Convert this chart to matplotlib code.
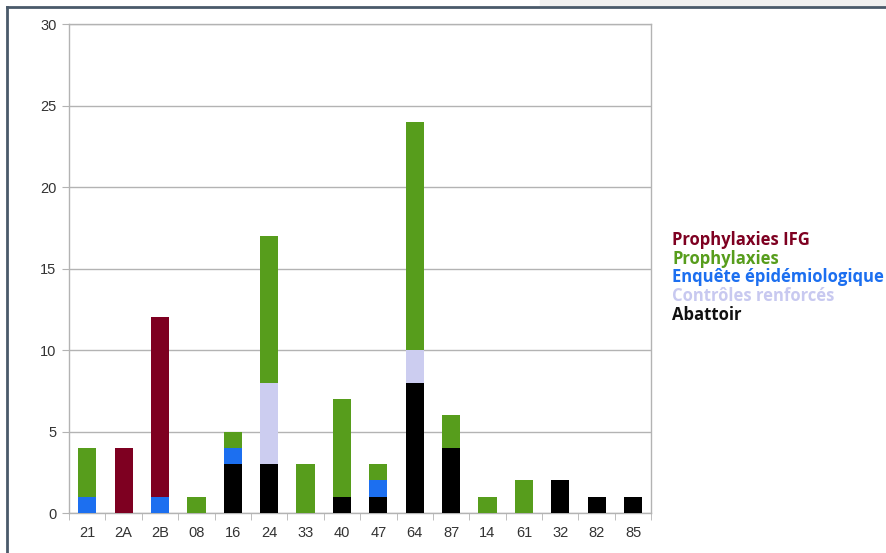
import matplotlib.pyplot as plt
import numpy as np
from matplotlib.lines import Line2D

# departements
depts = ['21', '2A', '2B', '08', '16', '24', '33', '40', '47', '64', '87', '14', '61', '32', '82', '85']

# stacked from bottom to top
abattoir = [0, 0, 0, 0, 3, 3, 0, 1, 1, 8, 4, 0, 0, 2, 1, 1]
controles = [0, 0, 0, 0, 0, 5, 0, 0, 0, 2, 0, 0, 0, 0, 0, 0]
enquete = [1, 0, 1, 0, 1, 0, 0, 0, 1, 0, 0, 0, 0, 0, 0, 0]
prophylaxies = [3, 0, 0, 1, 1, 9, 3, 6, 1, 14, 2, 1, 2, 0, 0, 0]
prophy_ifg = [0, 4, 11, 0, 0, 0, 0, 0, 0, 0, 0, 0, 0, 0, 0, 0]

series = [
    ('Abattoir', abattoir, '#000000'),
    ('Contrôles renforcés', controles, '#cccdf0'),
    ('Enquête épidémiologique', enquete, '#1c6ff0'),
    ('Prophylaxies', prophylaxies, '#579d1c'),
    ('Prophylaxies IFG', prophy_ifg, '#7e0021'),
]

fig = plt.figure(figsize=(8.86, 5.53), dpi=100)
ax = fig.add_axes([0.078, 0.0723, 0.657, 0.8843])

x = np.arange(len(depts))
bottom = np.zeros(len(depts))
for name, vals, col in series:
    vals = np.array(vals)
    ax.bar(x, vals, 0.5, bottom=bottom, color=col, edgecolor='none', zorder=3)
    bottom += vals

ax.set_xlim(-0.5, len(depts) - 0.5)
ax.set_ylim(0, 30)
ax.set_yticks(range(0, 31, 5))
ax.grid(axis='y', color='#b3b3b3', lw=1, zorder=0)

for s in ['top', 'right', 'left', 'bottom']:
    ax.spines[s].set_color('#b3b3b3')
    ax.spines[s].set_linewidth(1)

ax.set_xticks(x)
ax.set_xticklabels(depts)
ax.set_xticks(np.arange(-0.5, len(depts)), minor=True)
ax.tick_params(axis='x', which='major', length=0, pad=9)
ax.tick_params(axis='x', which='minor', length=5, color='#b3b3b3')
ax.tick_params(axis='y', length=5, color='#b3b3b3', pad=4)
for lab in ax.get_xticklabels() + ax.get_yticklabels():
    lab.set_family(['Liberation Sans Narrow', 'Liberation Sans', 'DejaVu Sans'])
    lab.set_fontsize(10.5)
    lab.set_color('#333333')

# legend as coloured text
leg_items = [
    ('Prophylaxies IFG', '#7e0021'),
    ('Prophylaxies', '#579d1c'),
    ('Enquête épidémiologique', '#1c6ff0'),
    ('Contrôles renforcés', '#c8c9f0'),
    ('Abattoir', '#111111'),
]
for i, (txt, col) in enumerate(leg_items):
    fig.text(672 / 886, 1 - (240 + i * 18.7) / 553, txt, color=col, fontsize=12,
             fontweight='bold', family=['Open Sans', 'DejaVu Sans'], va='center', ha='left')

# screenshot frame
fig.patches.append(plt.Rectangle((540 / 886, 1 - 6 / 553), 1, 6 / 553, transform=fig.transFigure,
                                 color='#f0f0f0', zorder=0))
fig.add_artist(Line2D([7 / 886, 7 / 886], [0, 1 - 7 / 553], color='#4a5a6a', lw=2))
fig.add_artist(Line2D([7 / 886, 1], [1 - 7 / 553, 1 - 7 / 553], color='#4a5a6a', lw=2))

fig.savefig('out.png', dpi=100)
